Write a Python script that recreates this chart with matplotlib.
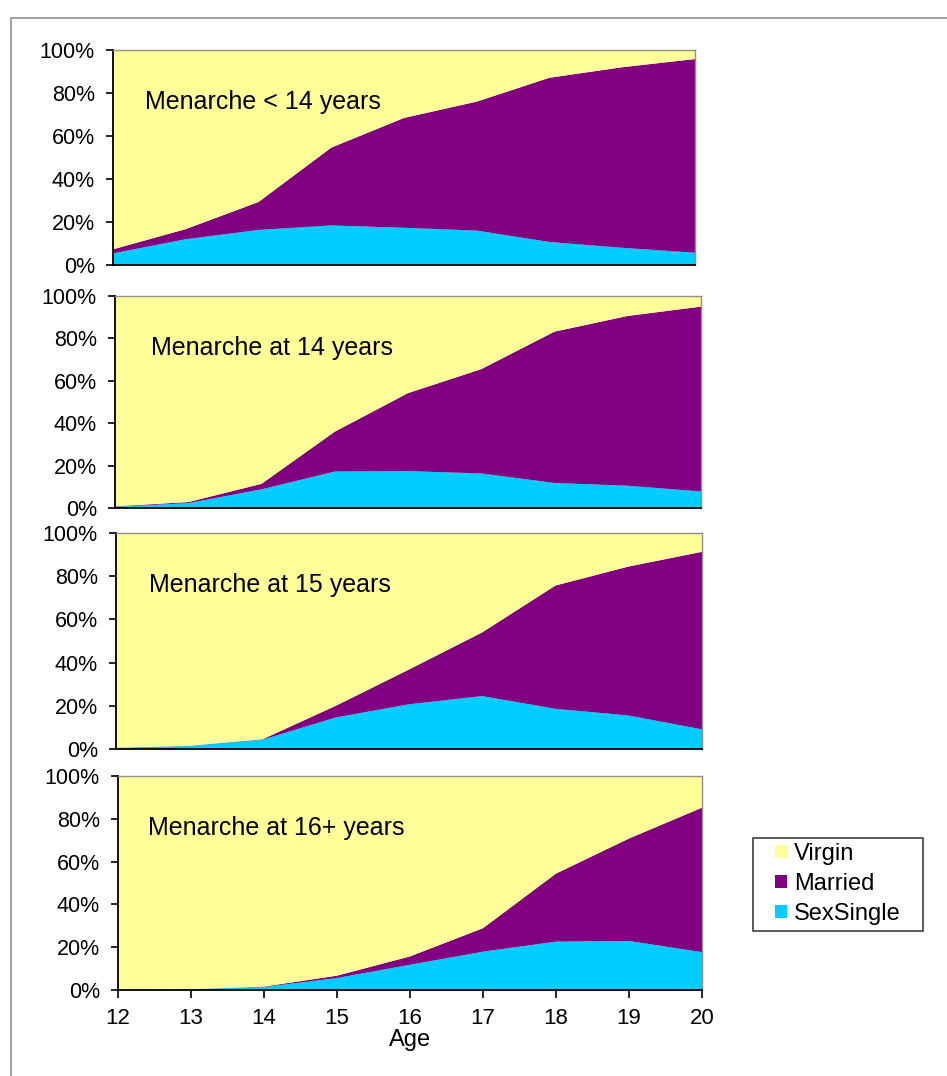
import matplotlib.pyplot as plt
from matplotlib.patches import Rectangle
from matplotlib.ticker import FuncFormatter

plt.rcParams['font.family'] = ['Liberation Sans', 'DejaVu Sans']

ages = [12, 13, 14, 15, 16, 17, 18, 19, 20]

titles = ["Menarche < 14 years", "Menarche at 14 years",
          "Menarche at 15 years", "Menarche at 16+ years"]

# percent of girls, per panel
single_lt14 = [5.4, 12.0, 16.3, 18.4, 17.3, 16.0, 10.7, 8.0, 5.7]
married_lt14 = [1.9, 4.7, 13.0, 36.2, 51.1, 60.0, 76.4, 84.0, 90.1]

single_14 = [0.6, 2.3, 8.8, 17.2, 17.4, 16.3, 11.8, 10.5, 7.8]
married_14 = [0.2, 0.5, 2.6, 18.8, 36.8, 49.2, 71.4, 80.1, 87.2]

single_15 = [0.5, 1.4, 4.3, 14.6, 20.7, 24.5, 18.6, 15.5, 9.1]
married_15 = [0.1, 0.1, 0.2, 5.4, 16.1, 29.5, 57.1, 69.0, 82.2]

single_16 = [0.1, 0.4, 1.4, 5.6, 11.8, 17.9, 22.6, 22.9, 17.7]
married_16 = [0.1, 0.0, 0.2, 1.1, 3.9, 11.0, 31.8, 47.9, 67.5]

singles = [single_lt14, single_14, single_15, single_16]
marrieds = [married_lt14, married_14, married_15, married_16]

labels = ["Virgin", "Married", "SexSingle"]
colors = {"Virgin": "#FFFF99", "Married": "#800080", "SexSingle": "#00CCFF"}

W, H = 947, 1076
fig = plt.figure(figsize=(W / 100, H / 100), dpi=100)

# frame around the whole slide
fig.patches.append(Rectangle((11 / W, -0.1), 1.2, 1 - 18 / H + 0.1,
                             transform=fig.transFigure, fill=False,
                             edgecolor='#909090', linewidth=1.2))

# pixel boxes: left, top, right, bottom
boxes = [(113, 50, 695, 265), (115, 296, 701, 508),
         (116, 533, 702, 749), (118, 776, 702, 990)]
title_x = [0.055, 0.062, 0.057, 0.052]

axes = []
for i, (l, t, r, b) in enumerate(boxes):
    ax = fig.add_axes([l / W, 1 - b / H, (r - l) / W, (b - t) / H])
    s = singles[i]
    m = marrieds[i]
    v = [100 - a - c for a, c in zip(s, m)]
    ax.stackplot(ages, s, m, v,
                 colors=[colors["SexSingle"], colors["Married"], colors["Virgin"]],
                 labels=["SexSingle", "Married", "Virgin"], linewidth=0)
    ax.set_xlim(12, 20)
    ax.set_ylim(0, 100)
    ax.set_yticks([0, 20, 40, 60, 80, 100])
    ax.yaxis.set_major_formatter(FuncFormatter(lambda y, p: "%d%%" % y))
    ax.tick_params(axis='y', labelsize=15.5, direction='out', length=5, width=1.2, pad=8)
    for side in ['top', 'right']:
        ax.spines[side].set_color('#909090')
        ax.spines[side].set_linewidth(1)
    for side in ['left', 'bottom']:
        ax.spines[side].set_color('black')
        ax.spines[side].set_linewidth(1.3)
    ax.text(title_x[i], 0.757, titles[i], fontsize=18, va='center', ha='left',
            transform=ax.transAxes)
    if i < 3:
        ax.set_xticks([])
    else:
        ax.set_xticks(ages)
        ax.tick_params(axis='x', labelsize=16, direction='out', length=6, width=1.2, pad=7)
    axes.append(ax)

fig.text(410 / W, 1 - 1040 / H, "Age", fontsize=17, ha='center', va='center')

# legend frame drawn separately so the padding can match
fig.patches.append(Rectangle((753 / W, 1 - 931 / H), 170 / W, 93 / H,
                             transform=fig.transFigure, fill=False,
                             edgecolor='#404040', linewidth=1.2))

handles, hl = axes[3].get_legend_handles_labels()
order = [hl.index(n) for n in labels]
leg = fig.legend([handles[k] for k in order], labels,
                 loc='upper left', bbox_to_anchor=(775 / W, 1 - 843 / H),
                 fontsize=17, frameon=False,
                 handlelength=0.5, handleheight=0.5, handletextpad=0.3,
                 labelspacing=0.34, borderpad=0, borderaxespad=0)

fig.savefig("out.png", dpi=100)
